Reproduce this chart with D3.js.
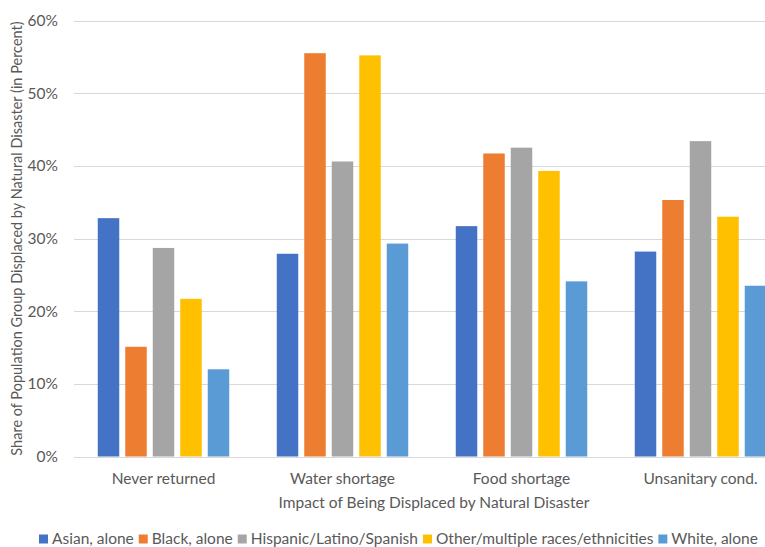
<!DOCTYPE html>
<html>
<head>
<meta charset="utf-8">
<script src="https://cdn.jsdelivr.net/npm/d3@7"></script>
<style>
  html, body { margin: 0; padding: 0; background: #fff; }
  svg { display: block; font-family: Lato, "Open Sans", sans-serif; }
</style>
</head>
<body>
<svg id="chart" width="765" height="547"></svg>
<script>
const categories = ["Never returned", "Water shortage", "Food shortage", "Unsanitary cond."];
const series = ["Asian, alone", "Black, alone", "Hispanic/Latino/Spanish", "Other/multiple races/ethnicities", "White, alone"];
const colors = ["#4472C4", "#ED7D31", "#A5A5A5", "#FFC000", "#5B9BD5"];
// share (%) per series, one value per category
const asian    = [32.8, 27.9, 31.7, 28.2];
const black    = [15.1, 55.5, 41.7, 35.3];
const hispanic = [28.7, 40.6, 42.5, 43.4];
const other    = [21.7, 55.2, 39.3, 33.0];
const white    = [12.0, 29.3, 24.1, 23.5];
const yTicks = [0, 10, 20, 30, 40, 50, 60];

const values = [asian, black, hispanic, other, white];
const rows = categories.map((c, i) => ({
  category: c,
  bars: series.map((s, j) => ({ series: s, color: colors[j], value: values[j][i] }))
}));

const svg = d3.select("#chart");
const W = 765;
const plotLeft = 74, plotRight = 790;   // plot area runs past the right edge

const x0 = d3.scaleBand().domain(categories).range([plotLeft, plotRight]).padding(0);
const x1 = d3.scaleBand().domain(series).range([0, x0.bandwidth()])
  .paddingInner(0.218).paddingOuter(0.864);
const y = d3.scaleLinear().domain([0, 60]).range([456.5, 20.5]);

const textColor = "#595959";
const fontSize = "15.5px";

// gridlines
svg.append("g")
  .selectAll("line")
  .data(yTicks)
  .join("line")
  .attr("x1", plotLeft).attr("x2", W)
  .attr("y1", d => Math.round(y(d)) + 0.5).attr("y2", d => Math.round(y(d)) + 0.5)
  .attr("stroke", "#D9D9D9").attr("stroke-width", 1);

// y axis labels
const yAxis = d3.axisLeft(y).tickValues(yTicks).tickFormat(d => d + "%").tickSize(0).tickPadding(0);
const yg = svg.append("g").attr("transform", "translate(58,0)").call(yAxis);
yg.select(".domain").remove();
yg.selectAll("text").attr("fill", textColor).style("font-size", fontSize).style("font-family", "Lato, sans-serif");

// bars
const groups = svg.append("g").selectAll("g")
  .data(rows)
  .join("g")
  .attr("transform", d => `translate(${x0(d.category)},0)`);

groups.selectAll("rect")
  .data(d => d.bars)
  .join("rect")
  .attr("x", d => x1(d.series))
  .attr("width", x1.bandwidth())
  .attr("y", d => y(d.value))
  .attr("height", d => y(0) - y(d.value))
  .attr("fill", d => d.color);

// category axis
const xAxis = d3.axisBottom(x0).tickSize(0).tickPadding(0);
const xg = svg.append("g").attr("transform", "translate(0,479)").call(xAxis);
xg.select(".domain").remove();
xg.selectAll("text").attr("fill", textColor).style("font-size", fontSize)
  .style("font-family", "Lato, sans-serif").attr("y", 0).attr("dy", "0.35em");

// axis titles
svg.append("text")
  .attr("x", 434).attr("y", 503).attr("dy", "0.35em")
  .attr("text-anchor", "middle")
  .attr("fill", textColor).style("font-size", fontSize)
  .text("Impact of Being Displaced by Natural Disaster");

svg.append("text")
  .attr("transform", `translate(22,${(22 + 455) / 2}) rotate(-90)`)
  .attr("text-anchor", "middle")
  .attr("fill", textColor).style("font-size", "14.5px")
  .text("Share of Population Group Displaced by Natural Disaster (in Percent)");

// legend
const legend = svg.append("g").attr("transform", "translate(39,539)");
let lx = 0;
series.forEach((s, j) => {
  const item = legend.append("g").attr("transform", `translate(${lx},0)`);
  item.append("rect").attr("x", 0).attr("y", -4.5).attr("width", 9).attr("height", 9).attr("fill", colors[j]);
  const t = item.append("text").attr("x", 13).attr("y", 0).attr("dy", "0.35em")
    .attr("fill", textColor).style("font-size", fontSize).text(s);
  lx += 13 + t.node().getComputedTextLength() + 5;
});
</script>
</body>
</html>
